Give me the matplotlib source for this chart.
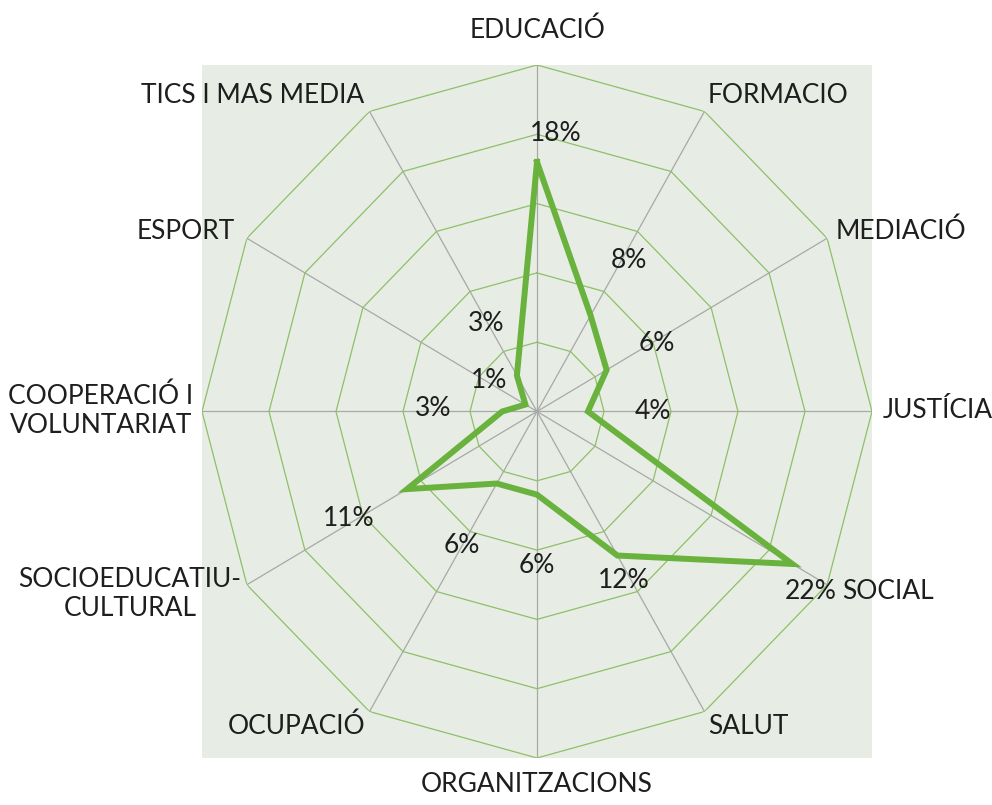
import matplotlib.pyplot as plt
import numpy as np
from matplotlib.patches import Rectangle

plt.rcParams['font.family'] = ['Lato', 'DejaVu Sans']

# dades llegides del gràfic (percentatges)
categories = ['EDUCACIÓ', 'FORMACIO', 'MEDIACIÓ', 'JUSTÍCIA', 'SOCIAL', 'SALUT',
              'ORGANITZACIONS', 'OCUPACIÓ', 'SOCIOEDUCATIU-\nCULTURAL',
              'COOPERACIÓ I\nVOLUNTARIAT', 'ESPORT', 'TICS I MAS MEDIA']
values = [18, 8, 6, 3.8, 22, 12, 6, 6, 11.2, 2.6, 1, 3]
value_labels = ['18%', '8%', '6%', '4%', '22%', '12%', '6%', '6%', '11%', '3%', '1%', '3%']
ring_levels = [5, 10, 15, 20, 25]

# posicio de les etiquetes (pixels respecte al punt)
value_offsets = [(19, 29), (38, 55), (50, 26), (65, 0), (18, -28), (6, -25),
                 (0, -71), (-35, -62), (-58, -29), (-69, 3), (-36, 24), (-31, 52)]
cat_offsets = [(1, 35), (74, 16), (74, 7), (66, 1), (61, -7), (44, -15),
               (0, -26), (-73, -15), (-117, -9), (-101, 1), (-61, 7), (-117, 16)]

bg = '#E7EDE4'
ring_color = '#8FBF68'
spoke_color = '#A8A8A8'
line_color = '#6AB23E'
text_color = '#1E1E1E'

fig = plt.figure(figsize=(9.92, 8.05), dpi=100)
ax = fig.add_axes([202/992, 1 - 758/805, 670/992, 693/805], projection='polar')
ax.set_aspect('auto')
ax.set_theta_zero_location('N')
ax.set_theta_direction(-1)
ax.patch.set_visible(False)
ax.spines['polar'].set_visible(False)
ax.grid(False)
ax.set_xticks([])
ax.set_yticks([])
ax.set_ylim(0, 25)

ax.add_patch(Rectangle((0, 0), 1, 1, transform=ax.transAxes, facecolor=bg,
                       edgecolor='none', clip_on=False, zorder=0))

n = len(categories)
angles = np.arange(n) * 2 * np.pi / n
closed = np.append(angles, angles[0])

for a in angles:
    ax.plot([a, a], [0, ring_levels[-1]], color=spoke_color, lw=0.9, zorder=1)
for lv in ring_levels:
    ax.plot(closed, [lv] * (n + 1), color=ring_color, lw=0.9, zorder=2)

ax.plot(closed, values + values[:1], color=line_color, lw=4.3,
        solid_joinstyle='miter', zorder=3)

for a, v, lab, off in zip(angles, values, value_labels, value_offsets):
    ax.annotate(lab, xy=(a, v), xytext=off, textcoords='offset pixels',
                ha='center', va='center', fontsize=19, color=text_color,
                annotation_clip=False, zorder=4)

for a, cat, off in zip(angles, categories, cat_offsets):
    ax.annotate(cat, xy=(a, ring_levels[-1]), xytext=off, textcoords='offset pixels',
                ha='center', va='center', fontsize=19, color=text_color,
                multialignment='center', linespacing=1.2,
                annotation_clip=False, zorder=4)

fig.savefig('out.png', dpi=100)
